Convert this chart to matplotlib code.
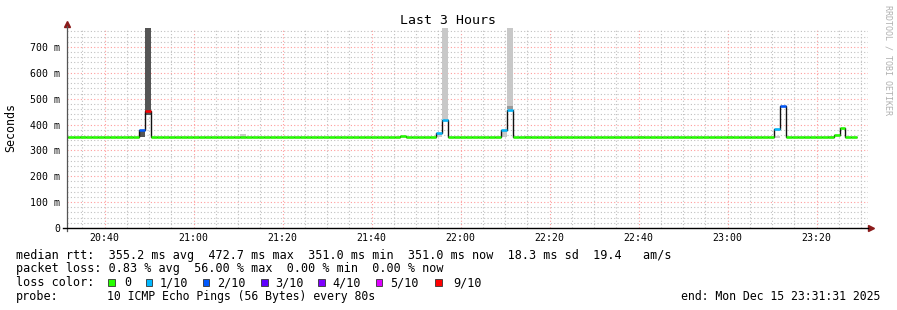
import matplotlib
matplotlib.use("Agg")
import matplotlib.pyplot as plt
from matplotlib.patches import Rectangle
from matplotlib.ticker import MultipleLocator, FuncFormatter

# median rtt per 80 s step (ms), first step starts 20:30:27
first_start_min = 30.45      # minutes after 20:00
step_min = 80 / 60
median = [
    351.0, 351.0, 351.0, 351.0, 351.0, 351.0, 351.0, 351.0, 351.0, 351.0,
    351.0, 351.0, 351.0, 379.0, 454.0, 351.0, 351.0, 351.0, 351.0, 351.0,
    351.0, 351.0, 351.0, 351.0, 351.0, 351.0, 351.0, 351.0, 351.0, 351.0,
    351.0, 351.0, 351.0, 351.0, 351.0, 351.0, 351.0, 351.0, 351.0, 351.0,
    351.0, 351.0, 351.0, 351.0, 351.0, 351.0, 351.0, 351.0, 351.0, 351.0,
    351.0, 351.0, 351.0, 351.0, 351.0, 351.0, 351.0, 354.0, 351.0, 351.0,
    351.0, 351.0, 351.0, 367.0, 418.0, 351.0, 351.0, 351.0, 351.0, 351.0,
    351.0, 351.0, 351.0, 351.0, 380.0, 458.0, 351.0, 353.0, 351.0, 351.0,
    351.0, 351.0, 351.0, 351.0, 351.0, 353.0, 351.0, 351.0, 351.0, 351.0,
    351.0, 351.0, 351.0, 351.0, 351.0, 351.0, 351.0, 351.0, 351.0, 351.0,
    351.0, 351.0, 351.0, 351.0, 351.0, 351.0, 351.0, 351.0, 351.0, 351.0,
    351.0, 351.0, 351.0, 351.0, 351.0, 351.0, 351.0, 351.0, 351.0, 351.0,
    383.0, 471.0, 351.0, 351.0, 351.0, 351.0, 351.0, 351.0, 351.0, 351.0,
    360.0, 385.0, 351.0, 351.0,
]
# lost pings out of 10 for each step
loss = [
    0, 0, 0, 0, 0, 0, 0, 0, 0, 0,
    0, 0, 0, 2, 9, 0, 0, 0, 0, 0,
    0, 0, 0, 0, 0, 0, 0, 0, 0, 0,
    0, 0, 0, 0, 0, 0, 0, 0, 0, 0,
    0, 0, 0, 0, 0, 0, 0, 0, 0, 0,
    0, 0, 0, 0, 0, 0, 0, 0, 0, 0,
    0, 0, 0, 1, 1, 0, 0, 0, 0, 0,
    0, 0, 0, 0, 1, 1, 0, 0, 0, 0,
    0, 0, 0, 0, 0, 0, 0, 0, 0, 0,
    0, 0, 0, 0, 0, 0, 0, 0, 0, 0,
    0, 0, 0, 0, 0, 0, 0, 0, 0, 0,
    0, 0, 0, 0, 0, 0, 0, 0, 0, 0,
    1, 2, 0, 0, 0, 0, 0, 0, 0, 0,
    0, 0, 0, 0,
]

# smoke (ping spread) where visible: step index, low, high, shade
smoke_step = [3, 11, 13, 14, 30, 63, 64, 74, 75, 75, 78, 97, 103, 112, 120, 129]
smoke_lo = [351, 351, 351, 437, 351, 351, 421, 351, 461, 461, 351, 351, 351, 351, 349, 351]
smoke_hi = [356, 355, 375, 800, 362, 365, 800, 377, 800, 470, 355, 355, 355, 355, 354, 356]
smoke_shade = ["#cccccc", "#cccccc", "#555555", "#555555", "#c8c8c8", "#c8c8c8",
               "#c8c8c8", "#c8c8c8", "#c8c8c8", "#9a9a9a", "#cccccc", "#cccccc",
               "#cccccc", "#cccccc", "#cccccc", "#cccccc"]

loss_labels = ["0", "1/10", "2/10", "3/10", "4/10", "5/10", "9/10"]
loss_levels = [0, 1, 2, 3, 4, 5, 9]
loss_colors = ["#26ff00", "#00b8ff", "#0059ff", "#5e00ff", "#7e00ff", "#dd00ff", "#ff0000"]

W, H = 897, 310
MONO = "DejaVu Sans Mono"
plt.rcParams["font.family"] = MONO

fig = plt.figure(figsize=(W / 100, H / 100), dpi=100)
fig.patch.set_facecolor("white")
ax = fig.add_axes([67 / W, (H - 228) / H, 801 / W, 200 / H])

edges = [first_start_min + i * step_min for i in range(len(median) + 1)]

for s, lo, hi, c in zip(smoke_step, smoke_lo, smoke_hi, smoke_shade):
    ax.bar(edges[s], hi - lo, bottom=lo, width=step_min, align="edge", color=c, lw=0, zorder=2)

ax.stairs(median, edges, baseline=None, color="#111111", lw=1.0, zorder=3)
color_of = dict(zip(loss_levels, loss_colors))
ax.hlines(median, edges[:-1], edges[1:], colors=[color_of[l] for l in loss],
          lw=1.8, capstyle="butt", zorder=4)

ax.set_xlim(31.517, 211.517)
ax.set_ylim(0, 773.4)

ax.xaxis.set_major_locator(MultipleLocator(20))
ax.xaxis.set_minor_locator(MultipleLocator(5))
ax.yaxis.set_major_locator(MultipleLocator(100))
ax.yaxis.set_minor_locator(MultipleLocator(20))
ax.xaxis.set_major_formatter(FuncFormatter(lambda v, p: f"{20 + int(v) // 60}:{int(v) % 60:02d}"))
ax.yaxis.set_major_formatter(FuncFormatter(lambda v, p: "0" if v == 0 else f"{int(v)} m"))

ax.grid(which="major", color="#ff9c9c", lw=0.8, linestyle=(0, (1, 2)))
ax.grid(which="minor", color="#c0c0c0", lw=0.8, linestyle=(0, (1, 2)))
ax.set_axisbelow(True)
ax.tick_params(which="both", length=0, labelsize=7.1, colors="black")
ax.tick_params(axis="y", pad=5)
ax.tick_params(axis="x", pad=3.5)
for sp in ax.spines.values():
    sp.set_visible(False)

# axis lines and arrows
ax.plot([0, 0], [-0.015, 1.01], transform=ax.transAxes, clip_on=False, color="#555555", lw=0.9, zorder=5)
ax.plot([-0.005, 1.0], [0, 0], transform=ax.transAxes, clip_on=False, color="black", lw=1.0, zorder=5)
ax.plot([0], [1.02], marker="^", ms=4, color="#8b1a1a", transform=ax.transAxes, clip_on=False)
ax.plot([1.004], [0], marker=">", ms=4, color="#8b1a1a", transform=ax.transAxes, clip_on=False)


def put(x, y, s, **kw):
    fig.text(x / W, 1 - y / H, s, va="center", family=MONO, **kw)


put(447.5, 20, "Last 3 Hours", ha="center", fontsize=9.5)
put(11, 127.5, "Seconds", ha="center", rotation=90, fontsize=8.4)
put(887.5, 60, "RRDTOOL / TOBI OETIKER", ha="center", rotation=270, fontsize=6, color="#b0b0b0")

fs = 8.45
put(16.2, 255, "median rtt:  355.2 ms avg  472.7 ms max  351.0 ms min  351.0 ms now  18.3 ms sd  19.4   am/s", fontsize=fs)
put(16.2, 268.5, "packet loss: 0.83 % avg  56.00 % max  0.00 % min  0.00 % now", fontsize=fs)

put(16.2, 282.5, "loss color:", fontsize=fs)
box_x = [108.3, 145.7, 202.7, 261, 318.3, 375.7, 435]
label_x = [124, 160, 217.3, 275.3, 332.7, 390, 453.3]
for bx, lx, c, lab in zip(box_x, label_x, loss_colors, loss_labels):
    fig.add_artist(Rectangle((bx / W, 1 - 285.7 / H), 6.7 / W, 6.7 / H,
                             transform=fig.transFigure, facecolor=c, edgecolor="#333333", lw=0.6))
    put(lx, 282.5, lab, fontsize=fs)

put(16.2, 296.5, "probe:", fontsize=fs)
put(107.3, 296.5, "10 ICMP Echo Pings (56 Bytes) every 80s", fontsize=8.3)
put(880, 296.5, "end: Mon Dec 15 23:31:31 2025", ha="right", fontsize=8.3)

fig.savefig("out.png", dpi=100)
